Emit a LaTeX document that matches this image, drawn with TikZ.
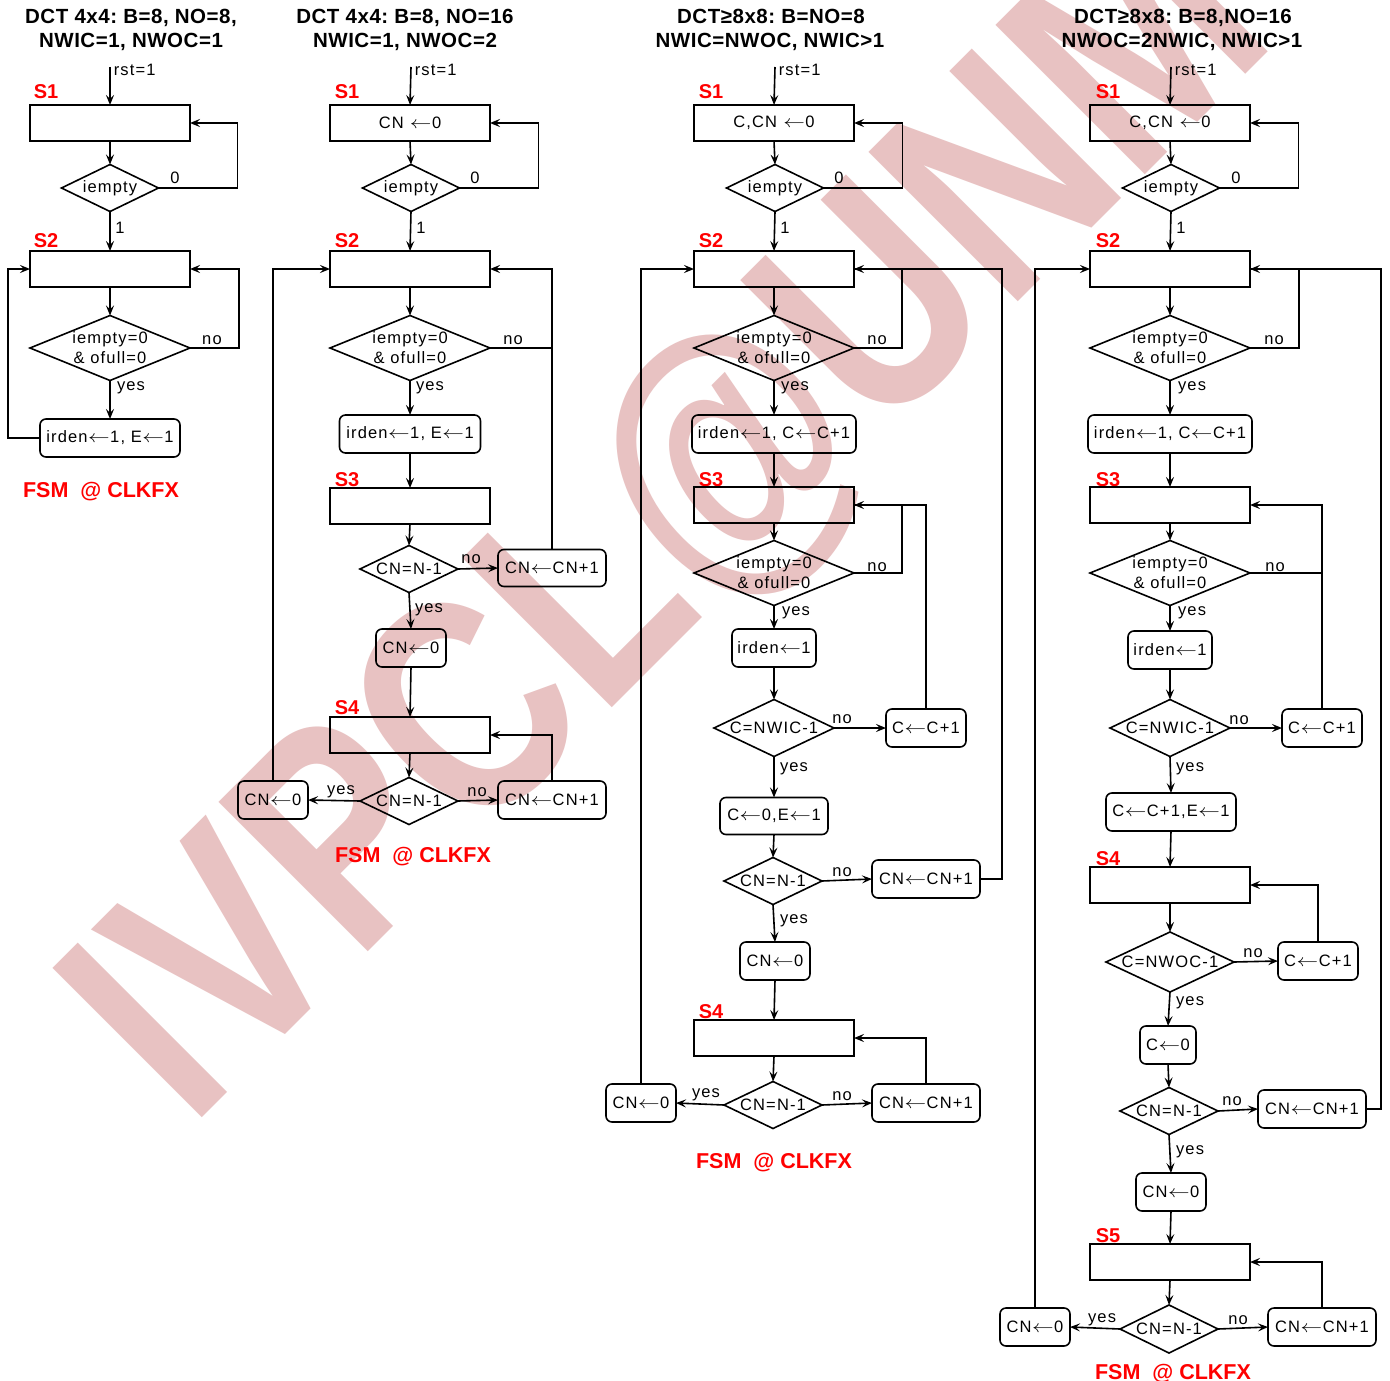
\documentclass[tikz,border=0pt]{standalone}
\usepackage{fontspec}
\setmainfont{Liberation Sans}
\newfontfamily\bodyf{Liberation Sans}[LetterSpace=7]
\newfontfamily\titlef{Liberation Sans}[LetterSpace=2.5]
\usetikzlibrary{shapes.geometric,arrows.meta,calc}
\definecolor{wmpink}{RGB}{232,194,194}
\definecolor{fsmred}{RGB}{255,0,0}
\newcommand\myla{\kern0.5pt\scalebox{1.25}[1]{$\leftarrow$}\kern0.5pt}
\frenchspacing
\tikzset{
  bodyfont/.style={font=\bodyf\fontsize{16.5}{20}\selectfont},
  sbox/.style={draw, rectangle, minimum width=160pt, minimum height=36pt, inner sep=0pt, outer sep=0pt, bodyfont},
  act/.style={draw, rectangle, rounded corners=6pt, minimum height=37pt, inner sep=0pt, outer sep=0pt, bodyfont},
  dia/.style={draw, diamond, inner sep=0pt, outer sep=0pt},
  txt/.style={inner sep=0pt, align=center, bodyfont},
  lab/.style={inner sep=0pt, bodyfont},
  stt/.style={font=\bfseries\fontsize{20}{24}\selectfont, text=fsmred, inner sep=0pt, anchor=base west},
  ttl/.style={font=\titlef\bfseries\fontsize{20.5}{24}\selectfont, inner sep=0pt, anchor=base},
  fsm/.style={font=\bfseries\fontsize{21.5}{26}\selectfont, text=fsmred, inner sep=0pt, anchor=base},
  arr/.style={-{Stealth[length=10pt,width=8pt,inset=4pt]}},
}
\begin{document}
\begin{tikzpicture}[x=1pt, y=-1pt, line width=1.6pt]
\useasboundingbox (0,0) rectangle (1390,1381);
\fill[white] (0,0) rectangle (1390,1381);
% watermark
\node[inner sep=0pt, anchor=base west, rotate=45, text=wmpink, font=\bfseries\fontsize{307}{307}\selectfont] (wm) at (190,1130) {\scalebox{0.81}[1]{IVPCL@UNM}};

% ================= Column 1 =================
\node[ttl] (t1a) at (131,24) {DCT 4x4: B=8, NO=8,};
\node[ttl] (t2a) at (131,48) {NWIC=1, NWOC=1};
\coordinate (r1a) at (110,67);
\node[lab, anchor=west] (rl1a) at (113,70) {rst=1};
\node[stt] (S1a) at (33,99) {S1};
\node[sbox] (s1a) at (110,123) {};
\node[dia, minimum width=97pt, minimum height=47pt] (d1a) at (110,188) {};
\node[txt] (d1at) at (d1a.center) {iempty};
\node[lab] (l0a) at (175,178) {0};
\node[lab] (l1a) at (120,228) {1};
\node[stt] (S2a) at (33,247) {S2};
\node[sbox] (s2a) at (110,269) {};
\node[dia, minimum width=160pt, minimum height=65pt] (d2a) at (110,348) {};
\node[txt] (d2at) at (d2a.center) {iempty=0\\\& ofull=0};
\node[lab] (lna) at (212,340) {no};
\node[lab] (lya) at (131,388) {yes};
\node[act, minimum width=140pt, minimum height=38pt] (a1a) at (110,438) {irden\myla1, E\myla1};
\node[fsm] (fa) at (101,497) {FSM\ \ @ CLKFX};
\draw[arr] (r1a) -- (s1a.north);
\draw[arr] (s1a.south) -- (d1a.north);
\draw[arr] (d1a.east) -- ++(79,0) |- (s1a.east);
\draw[arr] (d1a.south) -- (s2a.north);
\draw[arr] (s2a.south) -- (d2a.north);
\draw[arr] (d2a.east) -- ++(49,0) |- (s2a.east);
\draw[arr] (d2a.south) -- (a1a.north);
\draw[arr] (a1a.west) -- ++(-32,0) |- (s2a.west);

% ================= Column 2 =================
\node[ttl] (t1b) at (405,24) {DCT 4x4: B=8, NO=16};
\node[ttl] (t2b) at (405,48) {NWIC=1, NWOC=2};
\coordinate (r1b) at (411,67);
\node[lab, anchor=west] (rl1b) at (414,70) {rst=1};
\node[stt] (S1b) at (334,99) {S1};
\node[sbox] (s1b) at (410,123) {CN \myla0};
\node[dia, minimum width=97pt, minimum height=47pt] (d1b) at (411,188) {};
\node[txt] (d1bt) at (d1b.center) {iempty};
\node[lab] (l0b) at (475,178) {0};
\node[lab] (l1b) at (421,228) {1};
\node[stt] (S2b) at (334,247) {S2};
\node[sbox] (s2b) at (410,269) {};
\node[dia, minimum width=160pt, minimum height=65pt] (d2b) at (410,348) {};
\node[txt] (d2bt) at (d2b.center) {iempty=0\\\& ofull=0};
\node[lab] (lnb) at (513,340) {no};
\node[lab] (lyb) at (430,388) {yes};
\node[act, minimum width=141pt, minimum height=38pt] (a1b) at (410,434) {irden\myla1, E\myla1};
\node[stt] (S3b) at (334,486) {S3};
\node[sbox] (s3b) at (410,506) {};
\node[dia, minimum width=98pt, minimum height=47pt] (d3b) at (409,569) {};
\node[txt] (d3bt) at (d3b.center) {CN=N-1};
\node[act, minimum width=108pt, minimum height=37pt] (i1b) at (552,568) {CN\myla CN+1};
\node[lab] (ln3b) at (471,559) {no};
\node[lab] (ly3b) at (429,610) {yes};
\node[act, minimum width=70pt, minimum height=38pt] (z1b) at (411,648) {CN\myla0};
\node[stt] (S4b) at (334,714) {S4};
\node[sbox] (s4b) at (410,735) {};
\node[dia, minimum width=98pt, minimum height=47pt] (d4b) at (409,801) {};
\node[txt] (d4bt) at (d4b.center) {CN=N-1};
\node[act, minimum width=70pt, minimum height=38pt] (z2b) at (273,800) {CN\myla0};
\node[act, minimum width=108pt, minimum height=38pt] (i2b) at (552,800) {CN\myla CN+1};
\node[lab] (ly4b) at (341,792) {yes};
\node[lab] (ln4b) at (477,792) {no};
\node[fsm] (fb) at (413,862) {FSM\ \ @ CLKFX};
\draw[arr] (r1b) -- (s1b.north);
\draw[arr] (s1b.south) -- (d1b.north);
\draw[arr] (d1b.east) -- ++(79,0) |- (s1b.east);
\draw[arr] (d1b.south) -- (s2b.north);
\draw[arr] (s2b.south) -- (d2b.north);
\draw (d2b.east) -- (d2b.east -| i1b.north);
\draw[arr] (i1b.north) |- (s2b.east);
\draw[arr] (d2b.south) -- (a1b.north);
\draw[arr] (a1b.south) -- (s3b.north);
\draw[arr] (s3b.south) -- (d3b.north);
\draw[arr] (d3b.east) -- (i1b.west);
\draw[arr] (d3b.south) -- (z1b.north);
\draw[arr] (z1b.south) -- (s4b.north);
\draw[arr] (s4b.south) -- (d4b.north);
\draw[arr] (d4b.west) -- (z2b.east);
\draw[arr] (d4b.east) -- (i2b.west);
\draw[arr] (i2b.north) |- (s4b.east);
\draw[arr] (z2b.north) |- (s2b.west);

% ================= Column 3 =================
\node[ttl] (t1c) at (771,24) {DCT≥8x8: B=NO=8};
\node[ttl] (t2c) at (770,48) {NWIC=NWOC, NWIC>1};
\coordinate (r1c) at (775,67);
\node[lab, anchor=west] (rl1c) at (778,70) {rst=1};
\node[stt] (S1c) at (698,99) {S1};
\node[sbox] (s1c) at (774,123) {C,CN \myla0};
\node[dia, minimum width=97pt, minimum height=47pt] (d1c) at (775,188) {};
\node[txt] (d1ct) at (d1c.center) {iempty};
\node[lab] (l0c) at (839,178) {0};
\node[lab] (l1c) at (785,228) {1};
\node[stt] (S2c) at (698,247) {S2};
\node[sbox] (s2c) at (774,269) {};
\node[dia, minimum width=160pt, minimum height=65pt] (d2c) at (774,348) {};
\node[txt] (d2ct) at (d2c.center) {iempty=0\\\& ofull=0};
\node[lab] (lnc) at (877,340) {no};
\node[lab] (lyc) at (795,388) {yes};
\node[act, minimum width=164pt, minimum height=38pt] (a1c) at (774,434) {irden\myla1, C\myla C+1};
\node[stt] (S3c) at (698,486) {S3};
\node[sbox] (s3c) at (774,505) {};
\node[dia, minimum width=160pt, minimum height=65pt] (d3c) at (774,573) {};
\node[txt] (d3ct) at (d3c.center) {iempty=0\\\& ofull=0};
\node[lab] (ln3c) at (877,567) {no};
\node[lab] (ly3c) at (796,613) {yes};
\node[act, minimum width=84pt, minimum height=38pt] (a2c) at (774,648) {irden\myla1};
\node[dia, minimum width=120pt, minimum height=57pt] (d4c) at (774,728) {};
\node[txt] (d4ct) at (d4c.center) {C=NWIC-1};
\node[act, minimum width=80pt, minimum height=38pt] (c1c) at (926,728) {C\myla C+1};
\node[lab] (ln4c) at (842,719) {no};
\node[lab] (ly4c) at (794,769) {yes};
\node[act, minimum width=108pt, minimum height=37pt] (a3c) at (774,816) {C\myla0,E\myla1};
\node[dia, minimum width=98pt, minimum height=47pt] (d5c) at (773,881) {};
\node[txt] (d5ct) at (d5c.center) {CN=N-1};
\node[act, minimum width=108pt, minimum height=38pt] (i1c) at (926,879) {CN\myla CN+1};
\node[lab] (ln5c) at (842,872) {no};
\node[lab] (ly5c) at (794,921) {yes};
\node[act, minimum width=70pt, minimum height=38pt] (z1c) at (775,961) {CN\myla0};
\node[stt] (S4c) at (698,1018) {S4};
\node[sbox] (s4c) at (774,1038) {};
\node[dia, minimum width=98pt, minimum height=47pt] (d6c) at (773,1105) {};
\node[txt] (d6ct) at (d6c.center) {CN=N-1};
\node[act, minimum width=70pt, minimum height=38pt] (z2c) at (641,1103) {CN\myla0};
\node[act, minimum width=108pt, minimum height=38pt] (i2c) at (926,1103) {CN\myla CN+1};
\node[lab] (ly6c) at (706,1095) {yes};
\node[lab] (ln6c) at (842,1096) {no};
\node[fsm] (fc) at (774,1168) {FSM\ \ @ CLKFX};
\draw[arr] (r1c) -- (s1c.north);
\draw[arr] (s1c.south) -- (d1c.north);
\draw[arr] (d1c.east) -- ++(79,0) |- (s1c.east);
\draw[arr] (d1c.south) -- (s2c.north);
\draw[arr] (s2c.south) -- (d2c.north);
\draw (d2c.east) -- ++(48,0) |- (s2c.east);
\draw[arr] (i1c.east) -- ++(22,0) |- (s2c.east);
\draw[arr] (z2c.north) |- (s2c.west);
\draw[arr] (d2c.south) -- (a1c.north);
\draw[arr] (a1c.south) -- (s3c.north);
\draw[arr] (s3c.south) -- (d3c.north);
\draw (d3c.east) -- ++(48,0) |- (s3c.east);
\draw[arr] (c1c.north) |- (s3c.east);
\draw[arr] (d3c.south) -- (a2c.north);
\draw[arr] (a2c.south) -- (d4c.north);
\draw[arr] (d4c.east) -- (c1c.west);
\draw[arr] (d4c.south) -- (a3c.north);
\draw[arr] (a3c.south) -- (d5c.north);
\draw[arr] (d5c.east) -- (i1c.west);
\draw[arr] (d5c.south) -- (z1c.north);
\draw[arr] (z1c.south) -- (s4c.north);
\draw[arr] (s4c.south) -- (d6c.north);
\draw[arr] (d6c.west) -- (z2c.east);
\draw[arr] (d6c.east) -- (i2c.west);
\draw[arr] (i2c.north) |- (s4c.east);

% ================= Column 4 =================
\node[ttl] (t1d) at (1183,24) {DCT≥8x8: B=8,NO=16};
\node[ttl] (t2d) at (1182,48) {NWOC=2NWIC, NWIC>1};
\coordinate (r1d) at (1171,67);
\node[lab, anchor=west] (rl1d) at (1174,70) {rst=1};
\node[stt] (S1d) at (1095,99) {S1};
\node[sbox] (s1d) at (1170,123) {C,CN \myla0};
\node[dia, minimum width=97pt, minimum height=47pt] (d1d) at (1171,188) {};
\node[txt] (d1dt) at (d1d.center) {iempty};
\node[lab] (l0d) at (1236,178) {0};
\node[lab] (l1d) at (1181,228) {1};
\node[stt] (S2d) at (1095,247) {S2};
\node[sbox] (s2d) at (1170,269) {};
\node[dia, minimum width=160pt, minimum height=65pt] (d2d) at (1170,348) {};
\node[txt] (d2dt) at (d2d.center) {iempty=0\\\& ofull=0};
\node[lab] (lnd) at (1274,340) {no};
\node[lab] (lyd) at (1192,388) {yes};
\node[act, minimum width=164pt, minimum height=38pt] (a1d) at (1170,434) {irden\myla1, C\myla C+1};
\node[stt] (S3d) at (1095,486) {S3};
\node[sbox] (s3d) at (1170,505) {};
\node[dia, minimum width=160pt, minimum height=65pt] (d3d) at (1170,573) {};
\node[txt] (d3dt) at (d3d.center) {iempty=0\\\& ofull=0};
\node[lab] (ln3d) at (1275,567) {no};
\node[lab] (ly3d) at (1192,613) {yes};
\node[act, minimum width=84pt, minimum height=38pt] (a2d) at (1170,650) {irden\myla1};
\node[dia, minimum width=120pt, minimum height=57pt] (d4d) at (1170,728) {};
\node[txt] (d4dt) at (d4d.center) {C=NWIC-1};
\node[act, minimum width=80pt, minimum height=38pt] (c1d) at (1322,728) {C\myla C+1};
\node[lab] (ln4d) at (1239,720) {no};
\node[lab] (ly4d) at (1190,769) {yes};
\node[act, minimum width=130pt, minimum height=38pt] (a3d) at (1171,812) {C\myla C+1,E\myla1};
\node[stt] (S4d) at (1095,865) {S4};
\node[sbox] (s4d) at (1170,885) {};
\node[dia, minimum width=128pt, minimum height=60pt] (d5d) at (1170,962) {};
\node[txt] (d5dt) at (d5d.center) {C=NWOC-1};
\node[act, minimum width=80pt, minimum height=38pt] (c2d) at (1318,961) {C\myla C+1};
\node[lab] (ln5d) at (1253,953) {no};
\node[lab] (ly5d) at (1190,1003) {yes};
\node[act, minimum width=56pt, minimum height=38pt] (z0d) at (1168,1045) {C\myla0};
\node[dia, minimum width=98pt, minimum height=47pt] (d6d) at (1169,1111) {};
\node[txt] (d6dt) at (d6d.center) {CN=N-1};
\node[act, minimum width=108pt, minimum height=38pt] (i1d) at (1312,1109) {CN\myla CN+1};
\node[lab] (ln6d) at (1232,1101) {no};
\node[lab] (ly6d) at (1190,1152) {yes};
\node[act, minimum width=70pt, minimum height=38pt] (z1d) at (1171,1192) {CN\myla0};
\node[stt] (S5d) at (1095,1242) {S5};
\node[sbox] (s5d) at (1170,1262) {};
\node[dia, minimum width=98pt, minimum height=48pt] (d7d) at (1169,1329) {};
\node[txt] (d7dt) at (d7d.center) {CN=N-1};
\node[act, minimum width=70pt, minimum height=38pt] (z2d) at (1035,1327) {CN\myla0};
\node[act, minimum width=108pt, minimum height=38pt] (i2d) at (1322,1327) {CN\myla CN+1};
\node[lab] (ly7d) at (1102,1320) {yes};
\node[lab] (ln7d) at (1238,1320) {no};
\node[fsm] (fd) at (1173,1379) {FSM\ \ @ CLKFX};
\draw[arr] (r1d) -- (s1d.north);
\draw[arr] (s1d.south) -- (d1d.north);
\draw[arr] (d1d.east) -- ++(79,0) |- (s1d.east);
\draw[arr] (d1d.south) -- (s2d.north);
\draw[arr] (s2d.south) -- (d2d.north);
\draw (d2d.east) -- ++(49,0) |- (s2d.east);
\draw[arr] (i1d.east) -- ++(15,0) |- (s2d.east);
\draw[arr] (z2d.north) |- (s2d.west);
\draw[arr] (d2d.south) -- (a1d.north);
\draw[arr] (a1d.south) -- (s3d.north);
\draw[arr] (s3d.south) -- (d3d.north);
\draw (d3d.east) -- (d3d.east -| c1d.north);
\draw[arr] (c1d.north) |- (s3d.east);
\draw[arr] (d3d.south) -- (a2d.north);
\draw[arr] (a2d.south) -- (d4d.north);
\draw[arr] (d4d.east) -- (c1d.west);
\draw[arr] (d4d.south) -- (a3d.north);
\draw[arr] (a3d.south) -- (s4d.north);
\draw[arr] (s4d.south) -- (d5d.north);
\draw[arr] (d5d.east) -- (c2d.west);
\draw[arr] (c2d.north) |- (s4d.east);
\draw[arr] (d5d.south) -- (z0d.north);
\draw[arr] (z0d.south) -- (d6d.north);
\draw[arr] (d6d.east) -- (i1d.west);
\draw[arr] (d6d.south) -- (z1d.north);
\draw[arr] (z1d.south) -- (s5d.north);
\draw[arr] (s5d.south) -- (d7d.north);
\draw[arr] (d7d.west) -- (z2d.east);
\draw[arr] (d7d.east) -- (i2d.west);
\draw[arr] (i2d.north) |- (s5d.east);
\end{tikzpicture}
\end{document}
